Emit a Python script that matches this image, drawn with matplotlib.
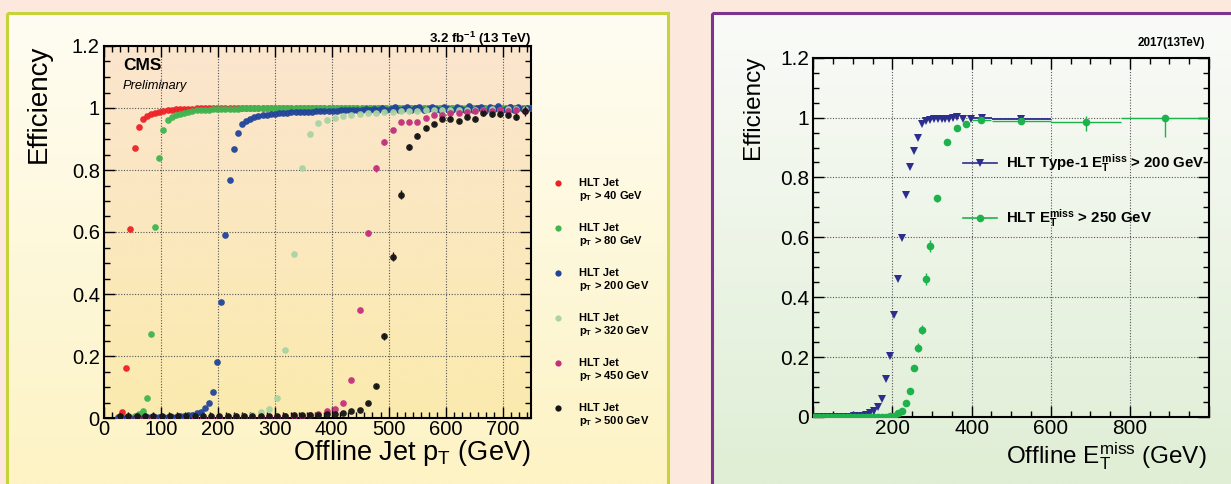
import matplotlib
matplotlib.use("Agg")
import matplotlib.pyplot as plt
import numpy as np
from matplotlib.patches import Rectangle
from matplotlib.ticker import MultipleLocator, AutoMinorLocator, FuncFormatter

plt.rcParams['font.family'] = ['Liberation Sans', 'DejaVu Sans']
plt.rcParams['mathtext.fontset'] = 'custom'
plt.rcParams['mathtext.rm'] = 'Liberation Sans'
plt.rcParams['mathtext.it'] = 'Liberation Sans:italic'
plt.rcParams['mathtext.bf'] = 'Liberation Sans:bold'

W, H = 1231, 484

# ---- jet trigger turn-on curves (left) ----
# fine binning for the low thresholds, coarse for the high ones
jet_bins_fine = np.arange(24.75, 750, 7.25)
jet_bins_coarse = np.arange(28.5, 750, 14.5)

eff_jet40 = [
    0.004, 0.02, 0.16, 0.61, 0.87, 0.94, 0.965, 0.975, 0.981, 0.985,
    0.988, 0.991, 0.993, 0.995, 0.996, 0.997, 0.997, 0.998, 0.998, 0.999,
    0.999, 0.999, 1.0, 1.0, 0.999, 1.0, 0.999, 1.0, 1.0, 0.999,
    1.0, 1.001, 1.0, 0.999, 1.0, 1.0, 1.0, 0.999, 1.0, 1.001,
    1.0, 0.999, 1.0, 1.0, 1.0, 0.999, 1.0, 1.0, 1.001, 1.0,
    0.999, 1.0, 1.0, 1.0, 0.999, 1.0, 1.001, 1.0, 1.0, 0.999,
    1.0, 1.0, 1.0, 1.001, 0.999, 1.0, 1.0, 1.0, 0.999, 1.0,
    1.0, 1.001, 1.0, 1.0, 0.999, 1.0, 1.0, 1.0, 1.0, 0.999,
    1.0, 1.0, 1.001, 1.0, 0.998, 1.0, 1.0, 1.001, 1.0, 0.999,
    1.0, 1.0, 1.0, 0.999, 1.0, 1.002, 1.0, 1.0, 0.999, 1.0,
    1.0]
eff_jet80 = [
    0.0, 0.001, 0.002, 0.004, 0.008, 0.012, 0.024, 0.065, 0.27, 0.615,
    0.84, 0.929, 0.961, 0.972, 0.978, 0.982, 0.985, 0.988, 0.99, 0.992,
    0.993, 0.994, 0.995, 0.996, 0.996, 0.997, 0.997, 0.998, 0.998, 0.998,
    0.999, 0.999, 0.999, 0.999, 1.0, 0.999, 1.0, 0.999, 1.0, 1.0,
    1.0, 0.999, 1.0, 1.0, 1.0, 1.0, 0.999, 1.0, 1.0, 1.0,
    0.999, 1.0, 1.0, 1.0, 1.001, 1.0, 0.999, 1.0, 1.0, 1.0,
    1.0, 0.999, 1.0, 1.0, 1.001, 1.0, 1.0, 0.999, 1.0, 1.0,
    1.0, 1.0, 0.999, 1.0, 1.0, 1.0, 1.001, 1.0, 0.999, 1.0,
    1.0, 1.0, 1.0, 0.999, 1.0, 1.0, 1.0, 1.001, 1.0, 1.0,
    0.999, 1.0, 1.0, 1.0, 1.0, 0.999, 1.0, 1.001, 1.0, 1.0,
    1.0]
eff_jet200 = [
    0.0, 0.0, 0.001, 0.0, 0.001, 0.001, 0.001, 0.002, 0.002, 0.002,
    0.002, 0.003, 0.003, 0.004, 0.004, 0.005, 0.007, 0.009, 0.011, 0.015,
    0.02, 0.031, 0.05, 0.085, 0.18, 0.373, 0.589, 0.767, 0.869, 0.92,
    0.947, 0.958, 0.965, 0.97, 0.974, 0.977, 0.979, 0.981, 0.982, 0.983,
    0.984, 0.985, 0.986, 0.986, 0.987, 0.987, 0.988, 0.988, 0.989, 0.989,
    0.99, 0.99, 0.991, 0.991, 0.992, 0.992, 0.993, 0.993, 0.994, 0.994,
    0.996, 0.993, 0.998, 0.995, 1.001, 0.994, 0.997, 1.002, 0.993, 0.998,
    1.003, 0.995, 0.999, 1.004, 0.994, 0.997, 1.002, 0.996, 0.993, 1.003,
    0.998, 0.992, 1.004, 0.997, 0.995, 1.005, 0.994, 0.999, 1.003, 0.991,
    1.002, 0.996, 1.005, 0.993, 0.998, 1.004, 0.995, 1.003, 0.997, 1.001,
    0.999]
eff_jet320 = [
    0.0, 0.0, 0.0, 0.0, 0.001, 0.001, 0.001, 0.001, 0.002, 0.002,
    0.002, 0.003, 0.003, 0.004, 0.005, 0.007, 0.01, 0.018, 0.03, 0.065,
    0.22, 0.53, 0.805, 0.915, 0.953, 0.961, 0.969, 0.975, 0.978, 0.98,
    0.983, 0.985, 0.987, 0.988, 0.99, 0.99, 0.991, 0.992, 0.992, 0.993,
    0.993, 0.994, 0.994, 0.995, 0.995, 0.996, 0.995, 0.996, 0.997, 0.996]
eff_jet450 = [
    0.0, 0.0, 0.0, 0.0, 0.0, 0.001, 0.001, 0.001, 0.001, 0.001,
    0.001, 0.001, 0.002, 0.002, 0.002, 0.002, 0.003, 0.003, 0.004, 0.004,
    0.005, 0.006, 0.008, 0.01, 0.014, 0.021, 0.028, 0.047, 0.124, 0.35,
    0.597, 0.805, 0.891, 0.929, 0.956, 0.956, 0.956, 0.969, 0.977, 0.977,
    0.983, 0.983, 0.988, 0.99, 0.993, 0.99, 0.993, 0.99, 0.995, 0.99]
eff_jet500 = [
    0.005, 0.006, 0.005, 0.006, 0.006, 0.005, 0.006, 0.006, 0.006, 0.006,
    0.006, 0.007, 0.006, 0.007, 0.007, 0.007, 0.007, 0.008, 0.008, 0.008,
    0.008, 0.009, 0.009, 0.01, 0.011, 0.012, 0.012, 0.015, 0.021, 0.026,
    0.049, 0.104, 0.263, 0.52, 0.72, 0.873, 0.91, 0.936, 0.95, 0.963,
    0.966, 0.958, 0.972, 0.966, 0.983, 0.98, 0.98, 0.977, 0.972, 0.99]
# uncertainties on the last 20 coarse bins
err_jet450 = [0.01, 0.012, 0.008, 0.006, 0.005, 0.005, 0.005, 0.004, 0.004, 0.004,
              0.004, 0.004, 0.004, 0.004, 0.004, 0.004, 0.004, 0.005, 0.005, 0.005]
err_jet500 = [0.004, 0.006, 0.01, 0.014, 0.014, 0.01, 0.008, 0.007, 0.006, 0.006,
              0.006, 0.007, 0.007, 0.008, 0.008, 0.009, 0.009, 0.01, 0.012, 0.016]

jet_thresholds = [40, 80, 200, 320, 450, 500]
jet_colors = ['#ee2126', '#40b550', '#22449a', '#a9d3a3', '#c2317d', '#141414']

# ---- MET trigger turn-on curves (right) ----
met_type1_x = [4, 14, 24, 34, 44, 54, 64, 74, 84, 94, 104, 114, 124, 134,
               144, 154, 164, 174, 184, 194, 204, 214, 224, 234, 244, 254,
               264, 274, 284, 294, 304, 314, 324, 334, 344, 354, 364, 379, 399]
met_type1_eff = [0.0, 0.0, 0.0, 0.0, 0.0, 0.0, 0.0, 0.0, 0.001, 0.001,
                 0.002, 0.003, 0.005, 0.008, 0.014, 0.021, 0.035, 0.06,
                 0.126, 0.205, 0.341, 0.462, 0.598, 0.742, 0.834, 0.887,
                 0.932, 0.979, 0.988, 0.993, 0.994, 0.995, 0.995, 0.996,
                 0.996, 0.998, 1.003, 0.994, 0.995]
met_type1_wide_x = [427, 526]
met_type1_wide_eff = [1.0, 0.996]
met_type1_wide_lo = [402, 452]
met_type1_wide_hi = [452, 600]

met_250_x = [4, 14, 24, 34, 44, 54, 64, 74, 84, 94, 104, 114, 124, 134,
             144, 154, 164, 174, 184, 194, 204, 214, 224, 234, 244, 254,
             264, 274, 284, 294, 313, 338, 362, 387]
met_250_eff = [0.0, 0.0, 0.0, 0.0, 0.0, 0.0, 0.0, 0.0, 0.0, 0.0,
               0.0, 0.0, 0.0, 0.0, 0.0, 0.0, 0.0, 0.0, 0.001, 0.002,
               0.005, 0.012, 0.021, 0.046, 0.088, 0.163, 0.232, 0.291,
               0.46, 0.57, 0.731, 0.917, 0.964, 0.98]
# uncertainties from 204 GeV upwards
met_250_err = [0.002, 0.003, 0.004, 0.006, 0.008, 0.01, 0.014, 0.015,
               0.02, 0.02, 0.012, 0.008, 0.005, 0.004]
met_250_wide_x = [424, 526, 689, 889]
met_250_wide_eff = [0.993, 0.988, 0.985, 1.0]
met_250_wide_lo = [400, 452, 600, 778]
met_250_wide_hi = [450, 600, 778, 1000]
met_250_wide_errlo = [0.005, 0.008, 0.03, 0.065]
met_250_wide_errhi = [0.004, 0.006, 0.02, 0.0]

blue_met = '#2d2d8e'
green_met = '#1eb24c'


def vgrad(ax, x0, x1, y0, y1, top, bottom):
    t = np.linspace(0, 1, 256)[:, None, None]
    img = (np.array(top) * (1 - t) + np.array(bottom) * t) / 255.0
    ax.imshow(img, extent=[x0, x1, y1, y0], aspect='auto',
              interpolation='bilinear', zorder=0)


def root_style(ax, labelsize):
    ax.set_facecolor('none')
    ax.tick_params(which='both', direction='in', top=True, right=True,
                   width=1.0, labelsize=labelsize)
    ax.tick_params(which='major', length=8)
    ax.tick_params(which='minor', length=4.5)
    ax.tick_params(axis='y', pad=3)
    ax.tick_params(axis='x', pad=1.5)
    for s in ax.spines.values():
        s.set_linewidth(1.5)
    ax.set_axisbelow(True)
    ax.grid(True, which='major', ls=(0, (1, 1.5)), color='#555555', lw=0.8)
    ax.yaxis.set_major_formatter(FuncFormatter(lambda v, p: '%g' % round(v, 3)))


fig = plt.figure(figsize=(W / 100, H / 100), dpi=100)
fig.patch.set_facecolor('#fce8dc')

# background layer in pixel units
bg = fig.add_axes([0, 0, 1, 1])
bg.axis('off')
vgrad(bg, 7, 668, 12.5, 484, (255, 253, 243), (253, 243, 196))
vgrad(bg, 104, 531, 46, 418, (251, 229, 206), (251, 235, 174))
vgrad(bg, 712, 1240, 13, 484, (250, 251, 248), (223, 238, 213))
bg.add_patch(Rectangle((7, 12.5), 661, 500, fill=False, ec='#c4d43a', lw=2.2))
bg.add_patch(Rectangle((712, 13), 540, 500, fill=False, ec='#7d3491', lw=2.2))
bg.set_xlim(0, W)
bg.set_ylim(H, 0)

# ---- left panel ----
axL = fig.add_axes([104 / W, 1 - 418 / H, 427 / W, 372 / H])
root_style(axL, 14.5)
jet_series = [(jet_bins_fine, eff_jet40), (jet_bins_fine, eff_jet80),
              (jet_bins_fine, eff_jet200), (jet_bins_coarse, eff_jet320),
              (jet_bins_coarse, eff_jet450), (jet_bins_coarse, eff_jet500)]
for (xb, eff), col in zip(jet_series, jet_colors):
    axL.plot(xb, eff, 'o', ms=4.8, mew=0, color=col, alpha=0.95, zorder=3)
axL.errorbar(jet_bins_coarse[30:], eff_jet450[30:], yerr=err_jet450, fmt='none',
             ecolor=jet_colors[4], elinewidth=1.0, zorder=3)
axL.errorbar(jet_bins_coarse[30:], eff_jet500[30:], yerr=err_jet500, fmt='none',
             ecolor=jet_colors[5], elinewidth=1.0, zorder=3)
axL.set_xlim(0, 750)
axL.set_ylim(0, 1.2)
axL.xaxis.set_major_locator(MultipleLocator(100))
axL.xaxis.set_minor_locator(AutoMinorLocator(7))
axL.yaxis.set_major_locator(MultipleLocator(0.2))
axL.yaxis.set_minor_locator(AutoMinorLocator(4))
axL.xaxis.set_major_formatter(FuncFormatter(lambda v, p: '%g' % v if v < 750 else ''))

bg.text(531, 43, r'3.2 fb$^{\mathbf{-1}}$ (13 TeV)', ha='right', va='baseline',
        fontsize=9.5, fontweight='bold')
bg.text(123, 66, 'CMS', ha='left', va='center', fontsize=12.5, fontweight='bold')
bg.text(123, 86, 'Preliminary', ha='left', va='center', fontsize=9.3, style='italic')
bg.text(39, 45, 'Efficiency', rotation=90, ha='center', va='top', fontsize=20)
bg.text(531, 460, r'Offline Jet p$_\mathrm{T}$ (GeV)', ha='right', va='baseline',
        fontsize=19.5)

# legend beside the frame
for i, (thr, col) in enumerate(zip(jet_thresholds, jet_colors)):
    yl = 183 + 45 * i
    bg.plot(558, yl, 'o', ms=4.5, mew=0, color=col)
    bg.text(579, yl, 'HLT Jet', ha='left', va='center', fontsize=8,
            fontweight='bold')
    bg.text(579, yl + 13, r'p$_\mathbf{T}$ > %d GeV' % thr, ha='left',
            va='center', fontsize=8, fontweight='bold')

# ---- right panel ----
axR = fig.add_axes([813.3 / W, 1 - 417 / H, 395.7 / W, 359.3 / H])
root_style(axR, 15)
axR.plot(met_type1_x, met_type1_eff, 'v', ms=5.5, mew=0, color=blue_met, zorder=3)
axR.errorbar(met_type1_wide_x, met_type1_wide_eff,
             xerr=[np.subtract(met_type1_wide_x, met_type1_wide_lo),
                   np.subtract(met_type1_wide_hi, met_type1_wide_x)],
             fmt='v', ms=5.5, mew=0, color=blue_met, elinewidth=1.3, zorder=3)
axR.plot(met_250_x, met_250_eff, 'o', ms=5.5, mew=0, color=green_met, zorder=4)
axR.errorbar(met_250_x[20:], met_250_eff[20:], yerr=met_250_err, fmt='none',
             ecolor=green_met, elinewidth=1.0, zorder=4)
axR.errorbar(met_250_wide_x, met_250_wide_eff,
             xerr=[np.subtract(met_250_wide_x, met_250_wide_lo),
                   np.subtract(met_250_wide_hi, met_250_wide_x)],
             yerr=[met_250_wide_errlo, met_250_wide_errhi],
             fmt='o', ms=5.5, mew=0, color=green_met, elinewidth=1.0, zorder=4)
axR.set_xlim(0, 1000)
axR.set_ylim(0, 1.2)
axR.xaxis.set_major_locator(MultipleLocator(200))
axR.xaxis.set_minor_locator(AutoMinorLocator(4))
axR.yaxis.set_major_locator(MultipleLocator(0.2))
axR.yaxis.set_minor_locator(AutoMinorLocator(4))
axR.xaxis.set_major_formatter(FuncFormatter(lambda v, p: '%g' % v if 0 < v < 1000 else ''))

# in-frame legend
for yl, mk, col, lab in [(0.708, 'v', blue_met, r'HLT Type-1 $\mathbf{E}_\mathbf{T}^\mathbf{miss}$ > 200 GeV'),
                         (0.554, 'o', green_met, r'HLT $\mathbf{E}_\mathbf{T}^\mathbf{miss}$ > 250 GeV')]:
    axR.plot([0.379, 0.465], [yl, yl], color=col, lw=1.2, transform=axR.transAxes)
    axR.plot(0.422, yl, mk, ms=5.5, mew=0, color=col, transform=axR.transAxes)
    axR.text(0.486, yl, lab, transform=axR.transAxes, ha='left', va='center',
             fontsize=10.8, fontweight='bold')

bg.text(1205, 43, '2017(13TeV)', ha='right', va='center', fontsize=8.4,
        fontweight='bold')
bg.text(753, 56, 'Efficiency', rotation=90, ha='center', va='top', fontsize=17.5)
bg.text(1207, 463, r'Offline $\mathrm{E}_\mathrm{T}^\mathrm{miss}$ (GeV)',
        ha='right', va='baseline', fontsize=17.5)

fig.savefig('out.png', dpi=100, facecolor=fig.get_facecolor())
